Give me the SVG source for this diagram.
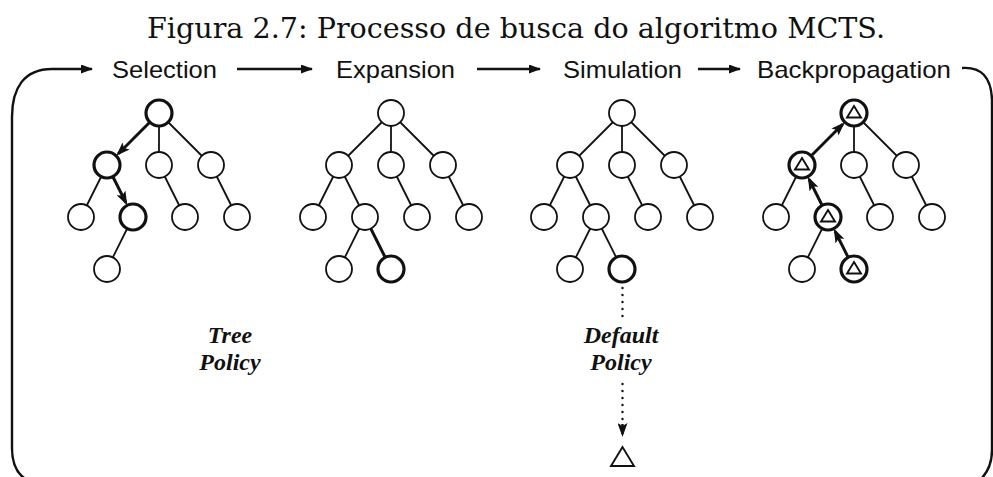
<svg xmlns="http://www.w3.org/2000/svg" width="993" height="477" viewBox="0 0 993 477">
  <style>
    .title { font-family: "DejaVu Serif", serif; font-size: 28px; fill: #111; }
    .phase { font-family: "Liberation Sans", Arial, sans-serif; font-size: 24px; fill: #111; }
    .policy { font-family: "Liberation Serif", "Times New Roman", serif; font-size: 24px; font-weight: bold; font-style: italic; fill: #111; text-anchor: middle; }
    .node { fill: #fff; stroke: #111; stroke-width: 1.8; }
    .hot { fill: #fff; stroke: #111; stroke-width: 3.2; }
    .edge { stroke: #111; stroke-width: 1.8; fill: none; }
    .bold { stroke: #111; stroke-width: 3; fill: none; }
    .flow { stroke: #111; stroke-width: 2.4; fill: none; }
    .dots { stroke: #111; stroke-width: 2.4; stroke-linecap: round; stroke-dasharray: 0 7; fill: none; }
    .tri { fill: none; stroke: #111; stroke-width: 1.9; stroke-linejoin: miter; }
  </style>
  <defs>
    <marker id="head" markerUnits="userSpaceOnUse" markerWidth="14" markerHeight="10" refX="11" refY="5" orient="auto">
      <path d="M0,0 L14,5 L0,10 L3,5 z" fill="#111"/>
    </marker>
    <marker id="flowHead" markerUnits="userSpaceOnUse" markerWidth="12" markerHeight="9" refX="11" refY="4.5" orient="auto">
      <path d="M0,0 L12,4.5 L0,9 z" fill="#111"/>
    </marker>
    <polygon id="mark" points="0,-6 7,5.5 -7,5.5"/>
  </defs>

  <text class="title" x="147" y="38" textLength="738" lengthAdjust="spacingAndGlyphs">Figura 2.7: Processo de busca do algoritmo MCTS.</text>

  <!-- phase headings -->
  <g id="phases">
    <text class="phase" x="112" y="78" textLength="105" lengthAdjust="spacingAndGlyphs">Selection</text>
    <text class="phase" x="336" y="78" textLength="119" lengthAdjust="spacingAndGlyphs">Expansion</text>
    <text class="phase" x="563" y="78" textLength="119" lengthAdjust="spacingAndGlyphs">Simulation</text>
    <text class="phase" x="757" y="78" textLength="194" lengthAdjust="spacingAndGlyphs">Backpropagation</text>
  </g>

  <g id="connectors">
    <!-- cycle between phases -->
    <path class="flow" d="M40 484 Q12 480 12 448 L12 117 C12 88 24 69 52 69 L92 69" marker-end="url(#flowHead)"/>
    <line class="flow" x1="237" y1="69" x2="312" y2="69" marker-end="url(#flowHead)"/>
    <line class="flow" x1="477" y1="69" x2="540" y2="69" marker-end="url(#flowHead)"/>
    <line class="flow" x1="698" y1="69" x2="740" y2="69" marker-end="url(#flowHead)"/>
    <path class="flow" d="M962 68 Q991 66 992 100 L992 450 Q992 474 972 486"/>

    <!-- tree 1: selection -->
    <line class="bold" x1="159" y1="113" x2="118.3" y2="153.7" marker-end="url(#head)"/>
    <line class="edge" x1="159" y1="113" x2="159" y2="165"/>
    <line class="edge" x1="159" y1="113" x2="211" y2="165"/>
    <line class="edge" x1="107" y1="165" x2="81" y2="217"/>
    <line class="bold" x1="107" y1="165" x2="125.9" y2="202.7" marker-end="url(#head)"/>
    <line class="edge" x1="159" y1="165" x2="185" y2="217"/>
    <line class="edge" x1="211" y1="165" x2="237" y2="217"/>
    <line class="edge" x1="133" y1="217" x2="107" y2="269"/>

    <!-- tree 2: expansion -->
    <line class="edge" x1="391" y1="113" x2="339" y2="165"/>
    <line class="edge" x1="391" y1="113" x2="391" y2="165"/>
    <line class="edge" x1="391" y1="113" x2="443" y2="165"/>
    <line class="edge" x1="339" y1="165" x2="313" y2="217"/>
    <line class="edge" x1="339" y1="165" x2="365" y2="217"/>
    <line class="edge" x1="391" y1="165" x2="417" y2="217"/>
    <line class="edge" x1="443" y1="165" x2="469" y2="217"/>
    <line class="edge" x1="365" y1="217" x2="339" y2="269"/>
    <line class="bold" x1="365" y1="217" x2="391" y2="269"/>

    <!-- tree 3: simulation -->
    <line class="edge" x1="622" y1="113" x2="570" y2="165"/>
    <line class="edge" x1="622" y1="113" x2="622" y2="165"/>
    <line class="edge" x1="622" y1="113" x2="674" y2="165"/>
    <line class="edge" x1="570" y1="165" x2="544" y2="217"/>
    <line class="edge" x1="570" y1="165" x2="596" y2="217"/>
    <line class="edge" x1="622" y1="165" x2="648" y2="217"/>
    <line class="edge" x1="674" y1="165" x2="700" y2="217"/>
    <line class="edge" x1="596" y1="217" x2="570" y2="269"/>
    <line class="edge" x1="596" y1="217" x2="622" y2="269"/>
    <line class="dots" x1="622.5" y1="288" x2="622.5" y2="318"/>
    <line class="dots" x1="622.5" y1="384" x2="622.5" y2="422"/>
    <line class="flow" x1="622.5" y1="424" x2="622.5" y2="434" stroke-width="1.5" marker-end="url(#head)"/>

    <!-- tree 4: backpropagation -->
    <line class="bold" x1="802" y1="165" x2="842.7" y2="124.3" marker-end="url(#head)"/>
    <line class="edge" x1="854" y1="113" x2="854" y2="165"/>
    <line class="edge" x1="854" y1="113" x2="906" y2="165"/>
    <line class="edge" x1="802" y1="165" x2="776" y2="217"/>
    <line class="bold" x1="828" y1="217" x2="809.1" y2="179.3" marker-end="url(#head)"/>
    <line class="edge" x1="854" y1="165" x2="880" y2="217"/>
    <line class="edge" x1="906" y1="165" x2="932" y2="217"/>
    <line class="edge" x1="828" y1="217" x2="802" y2="269"/>
    <line class="bold" x1="854" y1="269" x2="835.1" y2="231.3" marker-end="url(#head)"/>
  </g>

  <!-- tree 1 nodes -->
  <g id="t1-r"><circle class="hot" cx="159" cy="113" r="13"/></g>
  <g id="t1-a"><circle class="hot" cx="107" cy="165" r="13"/></g>
  <g id="t1-b"><circle class="node" cx="159" cy="165" r="13"/></g>
  <g id="t1-c"><circle class="node" cx="211" cy="165" r="13"/></g>
  <g id="t1-d"><circle class="node" cx="81" cy="217" r="13"/></g>
  <g id="t1-e"><circle class="hot" cx="133" cy="217" r="13"/></g>
  <g id="t1-f"><circle class="node" cx="185" cy="217" r="13"/></g>
  <g id="t1-g"><circle class="node" cx="237" cy="217" r="13"/></g>
  <g id="t1-h"><circle class="node" cx="107" cy="269" r="13"/></g>

  <!-- tree 2 nodes -->
  <g id="t2-r"><circle class="node" cx="391" cy="113" r="13"/></g>
  <g id="t2-a"><circle class="node" cx="339" cy="165" r="13"/></g>
  <g id="t2-b"><circle class="node" cx="391" cy="165" r="13"/></g>
  <g id="t2-c"><circle class="node" cx="443" cy="165" r="13"/></g>
  <g id="t2-d"><circle class="node" cx="313" cy="217" r="13"/></g>
  <g id="t2-e"><circle class="node" cx="365" cy="217" r="13"/></g>
  <g id="t2-f"><circle class="node" cx="417" cy="217" r="13"/></g>
  <g id="t2-g"><circle class="node" cx="469" cy="217" r="13"/></g>
  <g id="t2-h"><circle class="node" cx="339" cy="269" r="13"/></g>
  <g id="t2-i"><circle class="hot" cx="391" cy="269" r="13"/></g>

  <!-- tree 3 nodes -->
  <g id="t3-r"><circle class="node" cx="622" cy="113" r="13"/></g>
  <g id="t3-a"><circle class="node" cx="570" cy="165" r="13"/></g>
  <g id="t3-b"><circle class="node" cx="622" cy="165" r="13"/></g>
  <g id="t3-c"><circle class="node" cx="674" cy="165" r="13"/></g>
  <g id="t3-d"><circle class="node" cx="544" cy="217" r="13"/></g>
  <g id="t3-e"><circle class="node" cx="596" cy="217" r="13"/></g>
  <g id="t3-f"><circle class="node" cx="648" cy="217" r="13"/></g>
  <g id="t3-g"><circle class="node" cx="700" cy="217" r="13"/></g>
  <g id="t3-h"><circle class="node" cx="570" cy="269" r="13"/></g>
  <g id="t3-i"><circle class="hot" cx="622" cy="269" r="13"/></g>
  <g id="t3-outcome"><polygon class="tri" points="622.5,447 611,466 634,466" stroke-width="2.6"/></g>

  <!-- tree 4 nodes -->
  <g id="t4-r"><circle class="hot" cx="854" cy="113" r="13"/><use href="#mark" class="tri" x="854" y="112"/></g>
  <g id="t4-a"><circle class="hot" cx="802" cy="165" r="13"/><use href="#mark" class="tri" x="802" y="164"/></g>
  <g id="t4-b"><circle class="node" cx="854" cy="165" r="13"/></g>
  <g id="t4-c"><circle class="node" cx="906" cy="165" r="13"/></g>
  <g id="t4-d"><circle class="node" cx="776" cy="217" r="13"/></g>
  <g id="t4-e"><circle class="hot" cx="828" cy="217" r="13"/><use href="#mark" class="tri" x="828" y="216"/></g>
  <g id="t4-f"><circle class="node" cx="880" cy="217" r="13"/></g>
  <g id="t4-g"><circle class="node" cx="932" cy="217" r="13"/></g>
  <g id="t4-h"><circle class="node" cx="802" cy="269" r="13"/></g>
  <g id="t4-i"><circle class="hot" cx="854" cy="269" r="13"/><use href="#mark" class="tri" x="854" y="268"/></g>

  <!-- policy labels -->
  <g id="tree-policy">
    <text class="policy" x="230" y="343">Tree</text>
    <text class="policy" x="230" y="370">Policy</text>
  </g>
  <g id="default-policy">
    <text class="policy" x="621" y="343">Default</text>
    <text class="policy" x="621" y="370">Policy</text>
  </g>
</svg>
